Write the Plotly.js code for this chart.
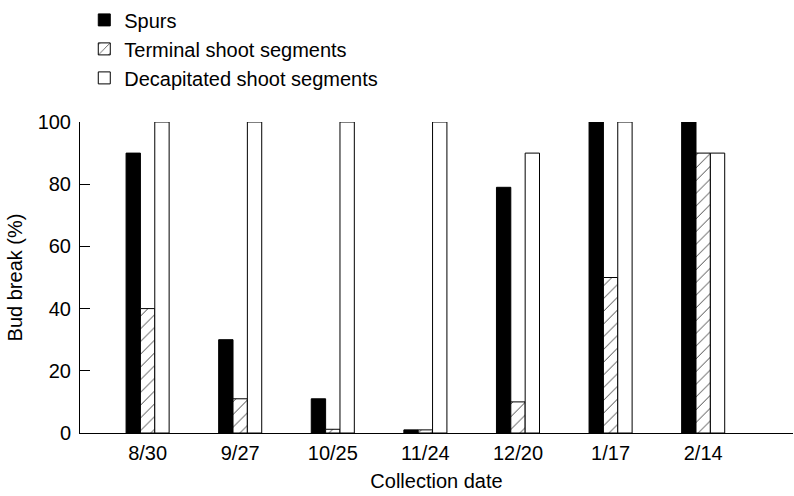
<!DOCTYPE html>
<html>
<head>
<meta charset="utf-8">
<script src="https://cdn.plot.ly/plotly-3.0.1.min.js"></script>
<style>html,body{margin:0;padding:0;background:#fff;}#chart{width:794px;height:496px;}</style>
</head>
<body>
<div id="chart"></div>
<script>
const dates = ["8/30", "9/27", "10/25", "11/24", "12/20", "1/17", "2/14"];
const spurs = [90, 30, 11, 1, 79, 100, 100];
const terminal = [40, 11, 1.2, 1, 10, 50, 90];
const decapitated = [100, 100, 100, 100, 90, 100, 90];
const seriesNames = ["Spurs", "Terminal shoot segments", "Decapitated shoot segments"];

const FONT = "Liberation Sans, Arial, Helvetica, sans-serif";
const FS = 20;
const lineStyle = {color: "#000", width: 1};

const traces = [
  {type: "bar", name: seriesNames[0], x: dates, y: spurs, legendgroup: "a",
   marker: {color: "#000", line: lineStyle}},
  {type: "bar", name: seriesNames[1], x: dates, y: terminal, legendgroup: "b",
   marker: {color: "#fff", line: lineStyle,
            pattern: {shape: "/", fgcolor: "#000", bgcolor: "#fff", size: 9, solidity: 0.08, fillmode: "replace"}}},
  {type: "bar", name: seriesNames[2], x: dates, y: decapitated, legendgroup: "c",
   marker: {color: "#fff", line: lineStyle}}
];

const layout = {
  width: 794, height: 496,
  margin: {l: 80, r: 1, t: 120, b: 63},
  paper_bgcolor: "#fff", plot_bgcolor: "#fff",
  font: {family: FONT, size: FS, color: "#000"},
  barmode: "group", bargap: 0.535, bargroupgap: 0,
  showlegend: true,
  legend: {x: 0.006, y: 1.391, xanchor: "left", yanchor: "top", traceorder: "grouped",
           tracegroupgap: 0, font: {family: FONT, size: FS, color: "#000"}, bgcolor: "rgba(0,0,0,0)"},
  xaxis: {type: "category", range: [-0.73, 6.97], showline: true, linecolor: "#000", linewidth: 1,
          ticks: "", showgrid: false, zeroline: false, fixedrange: true, ticklabelstandoff: 2,
          tickfont: {family: FONT, size: FS, color: "#000"},
          title: {text: "Collection date", font: {family: FONT, size: FS, color: "#000"}, standoff: 10}},
  yaxis: {range: [0, 100], tickvals: [0, 20, 40, 60, 80, 100], ticks: "inside", ticklen: 10,
          tickcolor: "#000", showline: true, linecolor: "#000", linewidth: 1, showgrid: false,
          zeroline: false, fixedrange: true, ticklabelstandoff: 4,
          tickfont: {family: FONT, size: FS, color: "#000"},
          title: {text: "Bud break (%)", font: {family: FONT, size: FS, color: "#000"}, standoff: 9}}
};

Plotly.newPlot("chart", traces, layout, {displayModeBar: false, staticPlot: true});
</script>
</body>
</html>
